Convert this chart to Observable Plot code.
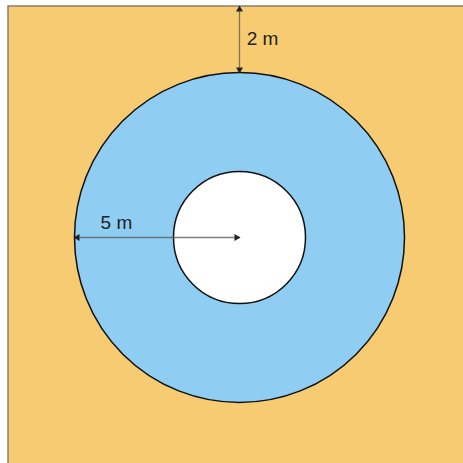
<!DOCTYPE html>
<html><head><meta charset="utf-8">
<script src="https://cdn.jsdelivr.net/npm/d3@7"></script>
<script src="https://cdn.jsdelivr.net/npm/@observablehq/plot@0.6"></script>
<style>body{margin:0;background:#fff}</style>
</head><body><div id="chart"></div>
<script>
// Geometry in metres
const squareHalf = 7;         // square side 14 m
const outerRadius = 5;        // blue circle radius
const innerRadius = 2;        // white circle radius
const gap = 2;                // gap from circle to square edge
const circles = [
  {name: "outer", r: outerRadius, fill: "#8fcef2"},
  {name: "inner", r: innerRadius, fill: "#ffffff"}
];
const labels = [
  {text: "2 m", x: 0.7, y: 6.03},
  {text: "5 m", x: -3.73, y: 0.45}
];
const arrows = [
  {x1: 0, y1: squareHalf, x2: 0, y2: squareHalf - gap},
  {x1: -outerRadius, y1: 0, x2: 0, y2: 0}
];
const heads = [
  {x: 0, y: squareHalf, rot: 0, dx: 0, dy: 3},
  {x: 0, y: squareHalf - gap, rot: 180, dx: 0, dy: -3},
  {x: -outerRadius, y: 0, rot: -90, dx: 3, dy: 0},
  {x: 0, y: 0, rot: 90, dx: -3, dy: 0}
];

const W = 463, H = 463;
const ppm = 33; // pixels per metre
const xMin = -squareHalf - 8 / ppm, xMax = xMin + W / ppm;
const yMax = squareHalf + 6 / ppm, yMin = yMax - H / ppm;

const chart = Plot.plot({
  width: W, height: H,
  margin: 0,
  x: {domain: [xMin, xMax], axis: null},
  y: {domain: [yMin, yMax], axis: null},
  r: {type: "linear", domain: [0, outerRadius], range: [0, outerRadius * ppm]},
  style: {background: "#fff"},
  marks: [
    Plot.rect([{x1: -squareHalf, x2: squareHalf, y1: -squareHalf, y2: squareHalf}],
      {x1: "x1", x2: "x2", y1: "y1", y2: "y2", fill: "#f7cb72", stroke: "#8c8068", strokeWidth: 1.5}),
    Plot.dot(circles, {x: () => 0, y: () => 0, r: "r", fill: "fill", stroke: "#111", strokeWidth: 1.5}),
    Plot.link(arrows, {x1: "x1", y1: "y1", x2: "x2", y2: "y2", stroke: "#555", strokeOpacity: 0.75, strokeWidth: 1.3}),
    ...heads.map(h => Plot.dot([h], {x: "x", y: "y", symbol: "triangle", rotate: h.rot, r: 2.6,
      fill: "#222", stroke: "none", dx: h.dx, dy: h.dy})),
    Plot.text(labels, {x: "x", y: "y", text: "text", fontSize: 19,
      fontFamily: "Liberation Sans, Arial, sans-serif", fill: "#222"})
  ]
});
document.getElementById("chart").append(chart);
</script>
</body></html>
